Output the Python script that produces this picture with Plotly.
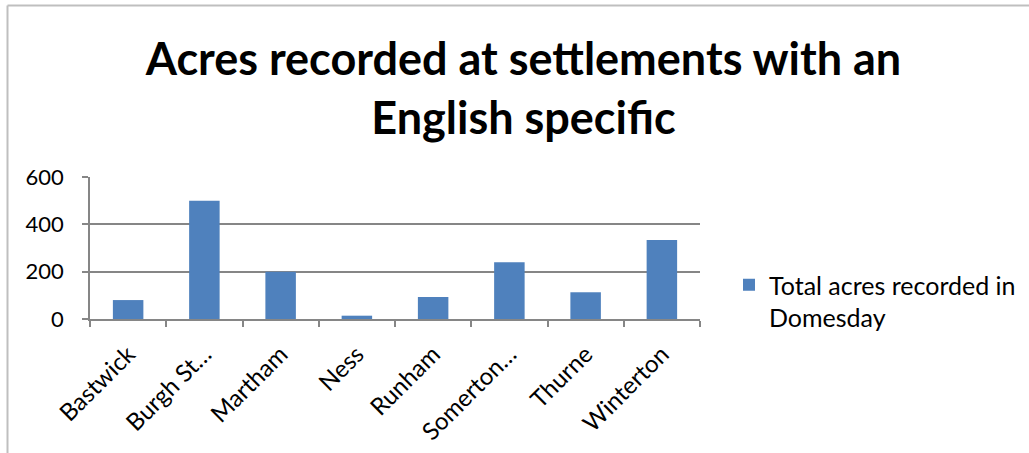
import plotly.graph_objects as go

categories = ["Bastwick", "Burgh St…", "Martham", "Ness", "Runham", "Somerton…", "Thurne", "Winterton"]
acres = [80, 500, 200, 14, 93, 240, 113, 334]
series_name = "Total acres recorded in<br>Domesday"
y_ticks = [0, 200, 400, 600]

W, H = 1029, 453
ML, MR, MT, MB = 90, 329, 177, 134
pw, ph = W - ML - MR, H - MT - MB

def px_x(p):
    return (p - ML) / pw

def px_y(p):
    return (H - MB - p) / ph

FONT = "Lato, Carlito, Calibri, sans-serif"

fig = go.Figure(go.Bar(
    x=categories, y=acres, name=series_name,
    marker=dict(color="#4F81BD", line=dict(width=0)),
    showlegend=True,
))

fig.update_layout(
    width=W, height=H,
    margin=dict(l=ML, r=MR, t=MT, b=MB, autoexpand=False),
    paper_bgcolor="white", plot_bgcolor="white",
    font=dict(family=FONT, color="black", size=22),
    title=dict(
        text="<b>Acres recorded at settlements with an<br>English specific</b>",
        x=523.5 / W, xanchor="center", xref="container",
        y=1 - 75 / H, yanchor="middle", yref="container",
        font=dict(size=45, family=FONT, color="black"),
    ),
    bargap=0.6,
    legend=dict(
        x=px_x(729), xanchor="left", y=px_y(262), yanchor="top",
        font=dict(size=25, family=FONT), valign="top",
        itemwidth=30, bgcolor="rgba(0,0,0,0)",
    ),
    xaxis=dict(
        tickangle=-45, showline=True, linecolor="#868686", linewidth=1.5,
        ticks="outside", tickson="boundaries", ticklen=6, tickcolor="#868686", tickwidth=1.5,
        showgrid=False, tickfont=dict(size=24), fixedrange=True,
        ticklabelstandoff=10,
    ),
    yaxis=dict(
        range=[0, 600], tickvals=y_ticks, showline=True, linecolor="#868686", linewidth=1.5,
        ticks="outside", ticklen=6, tickcolor="#868686", tickwidth=1.5,
        showgrid=True, gridcolor="#868686", gridwidth=1.5, zeroline=False,
        tickfont=dict(size=22), fixedrange=True, ticklabelstandoff=14,
    ),
    shapes=[
        dict(type="line", xref="paper", yref="paper",
             x0=px_x(7.5), x1=px_x(7.5), y0=px_y(5.5), y1=px_y(H + 2),
             line=dict(color="#BFBFBF", width=2)),
        dict(type="line", xref="paper", yref="paper",
             x0=px_x(7.5), x1=px_x(W + 2), y0=px_y(5.5), y1=px_y(5.5),
             line=dict(color="#BFBFBF", width=2)),
    ],
)

fig.write_html(
    "out.html",
    config={"displayModeBar": False},
    post_script="document.body.style.margin='0';document.body.style.overflow='hidden';",
)
